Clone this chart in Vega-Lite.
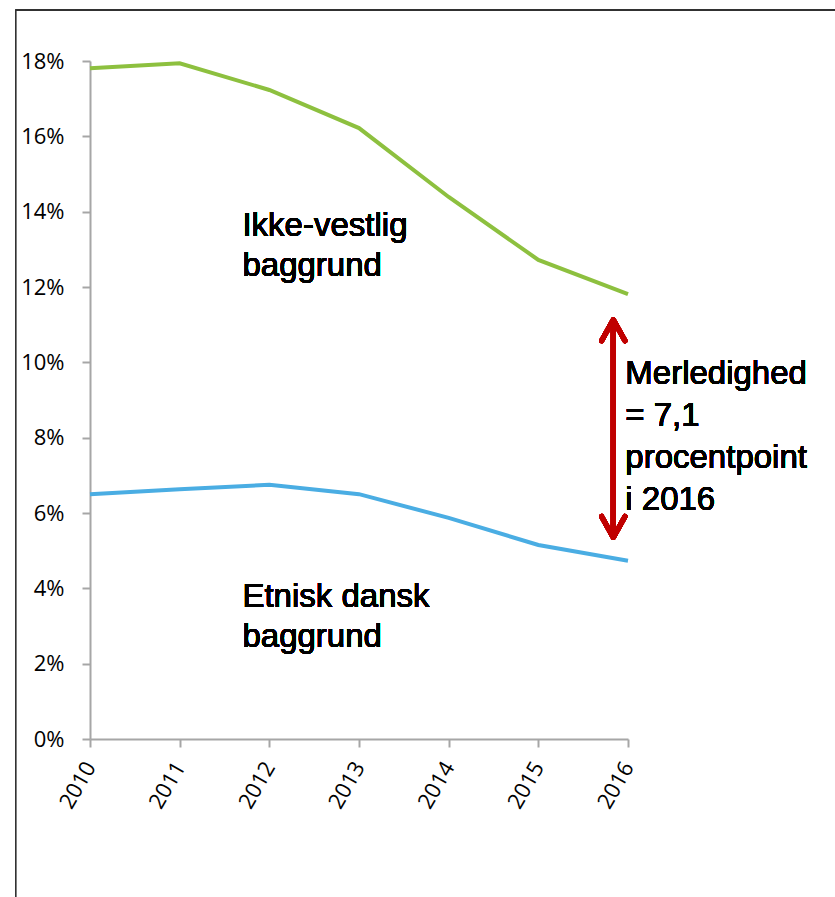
{
  "$schema": "https://vega.github.io/schema/vega-lite/v6.json",
  "autosize": {"type": "none"},
  "width": 538,
  "height": 678,
  "padding": {"left": 90, "top": 61, "right": 207, "bottom": 158},
  "background": "white",
  "config": {
    "view": {"stroke": null},
    "axis": {
      "labelFont": "Open Sans",
      "labelFontSize": 22,
      "labelColor": "#000000",
      "domainColor": "#a6a6a6",
      "domainWidth": 2,
      "tickColor": "#a6a6a6",
      "tickWidth": 2,
      "tickSize": 8,
      "grid": false,
      "title": null
    }
  },
  "data": {
    "values": [
      {"year": 2010, "group": "Ikke-vestlig baggrund", "value": 0.1781},
      {"year": 2011, "group": "Ikke-vestlig baggrund", "value": 0.1794},
      {"year": 2012, "group": "Ikke-vestlig baggrund", "value": 0.1723},
      {"year": 2013, "group": "Ikke-vestlig baggrund", "value": 0.1622},
      {"year": 2014, "group": "Ikke-vestlig baggrund", "value": 0.1439},
      {"year": 2015, "group": "Ikke-vestlig baggrund", "value": 0.1272},
      {"year": 2016, "group": "Ikke-vestlig baggrund", "value": 0.1181},
      {"year": 2010, "group": "Etnisk dansk baggrund", "value": 0.0650},
      {"year": 2011, "group": "Etnisk dansk baggrund", "value": 0.0663},
      {"year": 2012, "group": "Etnisk dansk baggrund", "value": 0.0675},
      {"year": 2013, "group": "Etnisk dansk baggrund", "value": 0.0650},
      {"year": 2014, "group": "Etnisk dansk baggrund", "value": 0.0587},
      {"year": 2015, "group": "Etnisk dansk baggrund", "value": 0.0515},
      {"year": 2016, "group": "Etnisk dansk baggrund", "value": 0.0473}
    ]
  },
  "layer": [
    {
      "mark": {"type": "rect", "fill": null, "filled": false, "stroke": "#333333", "strokeWidth": 1, "clip": false},
      "encoding": {
        "x": {"datum": 2009.17, "type": "quantitative"},
        "x2": {"datum": 2020},
        "y": {"datum": 0.1935, "type": "quantitative"},
        "y2": {"datum": -0.1}
      }
    },
    {
      "mark": {"type": "line", "strokeWidth": 4, "clip": false},
      "encoding": {
        "x": {
          "field": "year", "type": "quantitative",
          "scale": {"domain": [2010, 2016], "nice": false, "zero": false},
          "axis": {"values": [2010, 2011, 2012, 2013, 2014, 2015, 2016], "format": "d", "labelAngle": -60, "labelAlign": "right", "labelBaseline": "middle", "labelPadding": 16}
        },
        "y": {
          "field": "value", "type": "quantitative",
          "scale": {"domain": [0, 0.18], "nice": false},
          "axis": {"values": [0, 0.02, 0.04, 0.06, 0.08, 0.1, 0.12, 0.14, 0.16, 0.18], "format": ".0%", "labelPadding": 18}
        },
        "color": {
          "field": "group", "type": "nominal",
          "scale": {"domain": ["Ikke-vestlig baggrund", "Etnisk dansk baggrund"], "range": ["#8dc03f", "#4aade3"]},
          "legend": null
        }
      }
    },
    {
      "mark": {"type": "rule", "stroke": "#c00000", "strokeWidth": 5},
      "encoding": {
        "x": {"datum": 2015.836, "type": "quantitative"},
        "y": {"datum": 0.1110, "type": "quantitative"},
        "y2": {"datum": 0.0538}
      }
    },
    {
      "mark": {"type": "point", "shape": "M-1,1.8L0,0L1,1.8", "filled": false, "stroke": "#c00000", "strokeWidth": 5, "strokeCap": "round", "strokeJoin": "round", "opacity": 1, "size": 547},
      "encoding": {
        "x": {"datum": 2015.836, "type": "quantitative"},
        "y": {"datum": 0.1113, "type": "quantitative"}
      }
    },
    {
      "mark": {"type": "point", "shape": "M-1,-1.8L0,0L1,-1.8", "filled": false, "stroke": "#c00000", "strokeWidth": 5, "strokeCap": "round", "strokeJoin": "round", "opacity": 1, "size": 547},
      "encoding": {
        "x": {"datum": 2015.836, "type": "quantitative"},
        "y": {"datum": 0.0535, "type": "quantitative"}
      }
    },
    {
      "mark": {"type": "text", "text": ["Ikke-vestlig", "baggrund"], "font": "Liberation Sans", "fontSize": 33, "lineHeight": 40, "align": "left", "baseline": "alphabetic", "fill": "#000000", "stroke": null},
      "encoding": {
        "x": {"datum": 2011.70, "type": "quantitative"},
        "y": {"datum": 0.1335, "type": "quantitative"}
      }
    },
    {
      "mark": {"type": "text", "text": ["Etnisk dansk", "baggrund"], "font": "Liberation Sans", "fontSize": 33, "lineHeight": 40, "align": "left", "baseline": "alphabetic", "fill": "#000000", "stroke": null},
      "encoding": {
        "x": {"datum": 2011.70, "type": "quantitative"},
        "y": {"datum": 0.0350, "type": "quantitative"}
      }
    },
    {
      "mark": {"type": "text", "text": ["Merledighed", "= 7,1", "procentpoint", "i 2016"], "font": "Liberation Sans", "fontSize": 33, "lineHeight": 42, "align": "left", "baseline": "alphabetic", "fill": "#000000", "stroke": null},
      "encoding": {
        "x": {"datum": 2015.97, "type": "quantitative"},
        "y": {"datum": 0.0942, "type": "quantitative"}
      }
    }
  ]
}
